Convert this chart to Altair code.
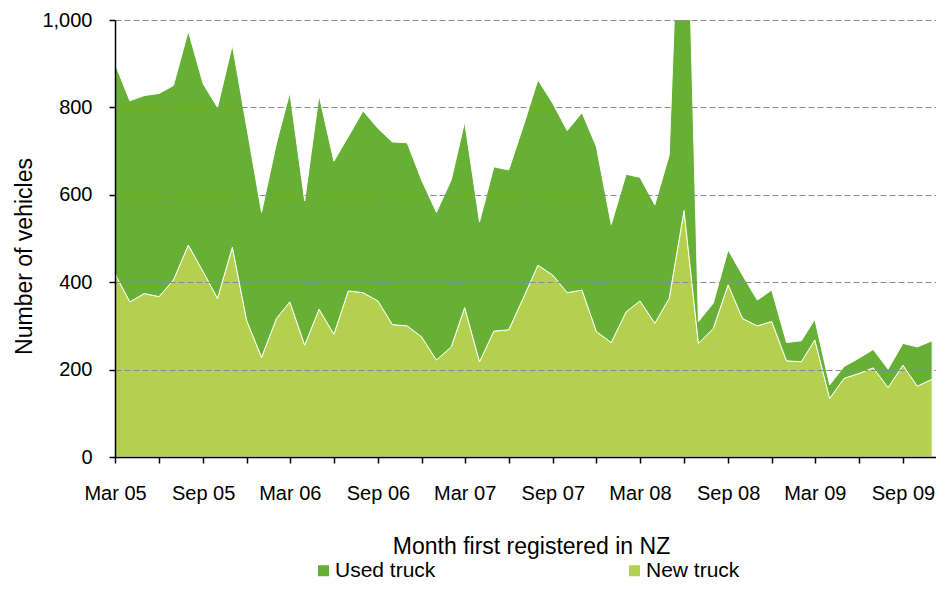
import altair as alt
import pandas as pd

start_month = "2005-03-01"

new_truck = [
    419, 355, 374, 367, 405, 485, 424, 363, 480, 312,
    228, 317, 355, 256, 338, 281, 380, 376, 357, 303, 300, 275,
    222, 252, 342, 218, 288, 291, 363, 439, 416, 376, 382, 287,
    262, 332, 357, 306, 363, 564, 260, 294, 394, 317, 300, 310,
    220, 218, 268, 134, 180, 191, 204, 159, 210, 162, 178,
]
used_truck = [
    481, 460, 453, 465, 445, 490, 430, 437, 463, 443,
    332, 401, 479, 330, 490, 396, 353, 416, 395, 418, 419, 359,
    338, 382, 425, 320, 376, 366, 393, 424, 393, 371, 406, 423,
    270, 315, 283, 271, 328, 1026, 50, 58, 80, 99, 59, 72,
    42, 48, 47, 31, 27, 35, 42, 42, 50, 90, 88,
]
series_names = ["Used truck", "New truck"]
series_colors = ["#66B035", "#B3D14F"]
y_ticks = [0, 200, 400, 600, 800, 1000]

FONT = "Liberation Sans"

dates = pd.date_range(start_month, periods=len(new_truck), freq="MS")
rows = []
for d, n, u in zip(dates, new_truck, used_truck):
    ds = d.strftime("%Y-%m-%dT00:00:00")
    rows.append({"date": ds, "series": "New truck", "value": n, "ord": 0})
    rows.append({"date": ds, "series": "Used truck", "value": u, "ord": 1})
df = pd.DataFrame(rows)

tick_dates = []
y, m = 2005, 3
while (y, m) <= (2009, 9):
    tick_dates.append(alt.DateTime(year=y, month=m, date=1))
    m += 3
    if m > 12:
        m -= 12
        y += 1

chart = (
    alt.Chart(df)
    .mark_area(stroke="white", strokeWidth=1, clip=True, interpolate="linear")
    .encode(
        x=alt.X(
            "date:T",
            scale=alt.Scale(domain=[alt.DateTime(year=2005, month=3, date=1),
                                    alt.DateTime(year=2009, month=11, date=9)]),
            axis=alt.Axis(
                values=tick_dates,
                labelExpr="(month(datum.value) % 6 == 2) ? timeFormat(datum.value, '%b %y') : ''",
                labelOverlap=False,
                labelFlush=False,
                labelFontSize=20,
                labelFont=FONT,
                labelColor="#000000",
                labelPadding=20,
                tickSize=6,
                tickColor="#000000",
                tickWidth=1.5,
                domainColor="#000000",
                domainWidth=1.5,
                grid=False,
                title="Month first registered in NZ",
                titleFont=FONT,
                titleFontSize=23,
                titleFontWeight="normal",
                titleColor="#000000",
                titleX=416,
                titleY=96,
                titleBaseline="alphabetic",
                titleAlign="center",
                zindex=1,
            ),
        ),
        y=alt.Y(
            "value:Q",
            stack="zero",
            scale=alt.Scale(domain=[0, 1000], nice=False),
            axis=alt.Axis(
                values=y_ticks,
                format=",d",
                labelFontSize=20,
                labelFont=FONT,
                labelColor="#000000",
                labelPadding=17,
                tickSize=6,
                tickColor="#000000",
                tickWidth=1.5,
                domainColor="#000000",
                domainWidth=1.5,
                grid=True,
                gridDash=[6, 3],
                gridColor="#8a8a8a",
                gridWidth=1.2,
                title="Number of vehicles",
                titleFont=FONT,
                titleFontSize=23,
                titleFontWeight="normal",
                titleColor="#000000",
                titleAngle=270,
                titleX=-84,
                titleY=236,
                titleBaseline="alphabetic",
                titleAlign="center",
                zindex=1,
            ),
        ),
        color=alt.Color(
            "series:N",
            scale=alt.Scale(domain=series_names, range=series_colors),
            legend=alt.Legend(
                orient="none",
                legendX=198,
                legendY=540,
                direction="horizontal",
                title=None,
                symbolType="square",
                symbolSize=121,
                symbolStrokeWidth=0,
                labelFont=FONT,
                labelFontSize=21,
                labelColor="#000000",
                labelOffset=1,
                columnPadding=188,
            ),
        ),
        order=alt.Order("ord:Q"),
    )
    .properties(
        width=821,
        height=437,
        padding={"left": 107, "top": 12, "right": 0, "bottom": 124},
        autosize=alt.AutoSizeParams(type="none"),
        background="white",
    )
    .configure_view(stroke=None)
)

chart.save("out.html", embed_options={"renderer": "svg", "actions": False})
